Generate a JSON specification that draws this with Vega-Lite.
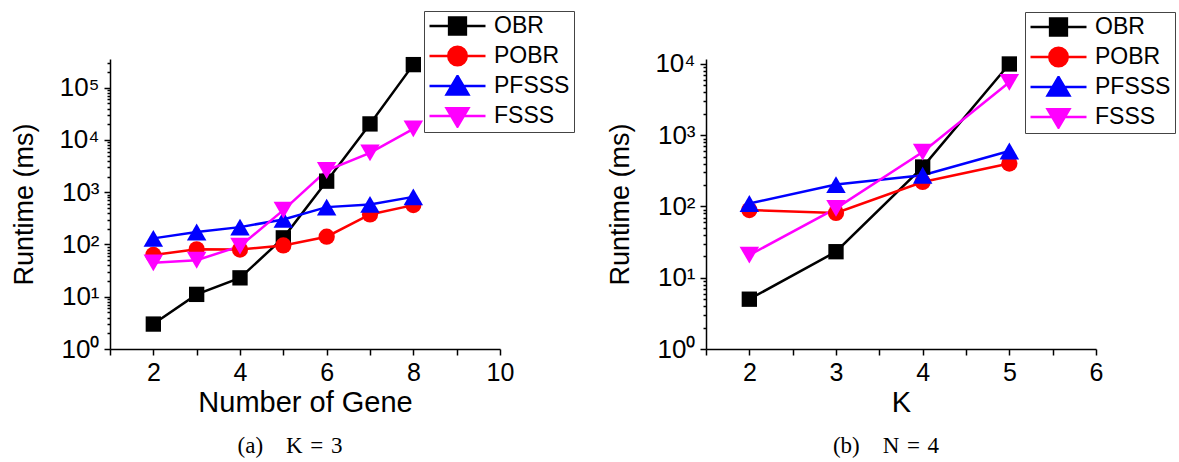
{
  "$schema": "https://vega.github.io/schema/vega-lite/v6.json",
  "padding": {"left": 10, "top": 10, "right": 0, "bottom": 0},
  "datasets": {
    "a": [
      {"n": 2, "method": "OBR", "t": 3.0}, {"n": 3, "method": "OBR", "t": 11.1}, {"n": 4, "method": "OBR", "t": 23}, {"n": 5, "method": "OBR", "t": 134}, {"n": 6, "method": "OBR", "t": 1630}, {"n": 7, "method": "OBR", "t": 20300}, {"n": 8, "method": "OBR", "t": 277000},
      {"n": 2, "method": "POBR", "t": 63}, {"n": 3, "method": "POBR", "t": 81}, {"n": 4, "method": "POBR", "t": 80}, {"n": 5, "method": "POBR", "t": 96}, {"n": 6, "method": "POBR", "t": 141}, {"n": 7, "method": "POBR", "t": 376}, {"n": 8, "method": "POBR", "t": 567},
      {"n": 2, "method": "PFSSS", "t": 131}, {"n": 3, "method": "PFSSS", "t": 173}, {"n": 4, "method": "PFSSS", "t": 215}, {"n": 5, "method": "PFSSS", "t": 302}, {"n": 6, "method": "PFSSS", "t": 519}, {"n": 7, "method": "PFSSS", "t": 585}, {"n": 8, "method": "PFSSS", "t": 815},
      {"n": 2, "method": "FSSS", "t": 44.6}, {"n": 3, "method": "FSSS", "t": 50}, {"n": 4, "method": "FSSS", "t": 93}, {"n": 5, "method": "FSSS", "t": 455}, {"n": 6, "method": "FSSS", "t": 2610}, {"n": 7, "method": "FSSS", "t": 5660}, {"n": 8, "method": "FSSS", "t": 16300}
    ],
    "b": [
      {"n": 2, "method": "OBR", "t": 5.0}, {"n": 3, "method": "OBR", "t": 23.2}, {"n": 4, "method": "OBR", "t": 358}, {"n": 5, "method": "OBR", "t": 10000},
      {"n": 2, "method": "POBR", "t": 89}, {"n": 3, "method": "POBR", "t": 81}, {"n": 4, "method": "POBR", "t": 221}, {"n": 5, "method": "POBR", "t": 400},
      {"n": 2, "method": "PFSSS", "t": 110}, {"n": 3, "method": "PFSSS", "t": 203}, {"n": 4, "method": "PFSSS", "t": 274}, {"n": 5, "method": "PFSSS", "t": 600},
      {"n": 2, "method": "FSSS", "t": 20.8}, {"n": 3, "method": "FSSS", "t": 94}, {"n": 4, "method": "FSSS", "t": 580}, {"n": 5, "method": "FSSS", "t": 5530}
    ]
  },
  "hconcat": [
    {
      "width": 390, "height": 290,
      "data": {"name": "a"},
      "title": {"text": "(a)\u2003K\u2004=\u20043", "orient": "bottom", "anchor": "middle", "font": "Liberation Serif", "fontSize": 23, "fontWeight": "normal", "color": "black", "offset": 18, "dx": -15},
      "resolve": {"axis": {"y": "independent"}},
      "layer": [
        {
          "mark": {"type": "point", "filled": true, "opacity": 0, "size": 10, "strokeWidth": 2.5},
          "encoding": {
            "x": {"field": "n", "type": "quantitative", "scale": {"domain": [1, 10], "nice": false}, "axis": {"values": [1, 2, 3, 4, 5, 6, 7, 8, 9, 10], "labelExpr": "datum.value % 2 == 0 ? datum.label : ''", "title": "Number of Gene"}},
            "y": {"field": "t", "type": "quantitative", "scale": {"type": "log", "domain": [1, 354813], "nice": false}, "axis": {"orient": "left", "values": [2,3,4,5,6,7,8,9,20,30,40,50,60,70,80,90,200,300,400,500,600,700,800,900,2000,3000,4000,5000,6000,7000,8000,9000,20000,30000,40000,50000,60000,70000,80000,90000,200000,300000], "labels": false, "domain": false, "tickSize": 3, "title": null}},
            "stroke": {"field": "method", "type": "nominal", "scale": {"domain": ["OBR", "POBR", "PFSSS", "FSSS"], "range": ["#000000", "#ff0000", "#0000ff", "#ff00ff"]}, "legend": {"legendX": 314, "legendY": -48}},
            "fill": {"field": "method", "type": "nominal", "scale": {"domain": ["OBR", "POBR", "PFSSS", "FSSS"], "range": ["#000000", "#ff0000", "#0000ff", "#ff00ff"]}, "legend": {"legendX": 314, "legendY": -48}},
            "shape": {"field": "method", "type": "nominal", "scale": {"domain": ["OBR", "POBR", "PFSSS", "FSSS"], "range": ["M-1,0H1M-0.3,-0.3H0.3V0.3H-0.3Z", "M-1,0H1M-0.33,0A0.33,0.33,0,1,0,0.33,0A0.33,0.33,0,1,0,-0.33,0Z", "M-1,0H1M0,-0.36L0.39,0.3H-0.39Z", "M-1,0H1M-0.39,-0.28H0.39L0,0.38Z"]}, "legend": {"legendX": 314, "legendY": -48}}
          }
        },
        {
          "mark": {"type": "line", "strokeWidth": 2.5},
          "encoding": {
            "x": {"field": "n", "type": "quantitative"},
            "y": {"field": "t", "type": "quantitative", "scale": {"type": "log", "domain": [1, 354813], "nice": false}, "axis": {"orient": "left", "values": [1, 10, 100, 1000, 10000, 100000], "labelExpr": "'10' + ['⁰','¹','²','³','⁴','⁵'][round(log(datum.value)/LN10)]", "title": "Runtime (ms)"}},
            "stroke": {"field": "method", "type": "nominal", "scale": {"domain": ["OBR", "POBR", "PFSSS", "FSSS"], "range": ["#000000", "#ff0000", "#0000ff", "#ff00ff"]}, "legend": null}
          }
        },
        {
          "transform": [{"filter": "datum.method == 'OBR'"}],
          "mark": {"type": "point", "shape": "square", "filled": true, "size": 235, "opacity": 1},
          "encoding": {
            "x": {"field": "n", "type": "quantitative"},
            "y": {"field": "t", "type": "quantitative", "axis": null},
            "fill": {"field": "method", "type": "nominal", "scale": {"domain": ["OBR", "POBR", "PFSSS", "FSSS"], "range": ["#000000", "#ff0000", "#0000ff", "#ff00ff"]}, "legend": null}
          }
        },
        {
          "transform": [{"filter": "datum.method == 'POBR'"}],
          "mark": {"type": "point", "shape": "circle", "filled": true, "size": 263, "opacity": 1},
          "encoding": {
            "x": {"field": "n", "type": "quantitative"},
            "y": {"field": "t", "type": "quantitative", "axis": null},
            "fill": {"field": "method", "type": "nominal", "scale": {"domain": ["OBR", "POBR", "PFSSS", "FSSS"], "range": ["#000000", "#ff0000", "#0000ff", "#ff00ff"]}, "legend": null}
          }
        },
        {
          "transform": [{"filter": "datum.method == 'PFSSS'"}],
          "mark": {"type": "point", "shape": "triangle-up", "filled": true, "size": 380, "opacity": 1},
          "encoding": {
            "x": {"field": "n", "type": "quantitative"},
            "y": {"field": "t", "type": "quantitative", "axis": null},
            "fill": {"field": "method", "type": "nominal", "scale": {"domain": ["OBR", "POBR", "PFSSS", "FSSS"], "range": ["#000000", "#ff0000", "#0000ff", "#ff00ff"]}, "legend": null}
          }
        },
        {
          "transform": [{"filter": "datum.method == 'FSSS'"}],
          "mark": {"type": "point", "shape": "triangle-down", "filled": true, "size": 380, "opacity": 1},
          "encoding": {
            "x": {"field": "n", "type": "quantitative"},
            "y": {"field": "t", "type": "quantitative", "axis": null},
            "fill": {"field": "method", "type": "nominal", "scale": {"domain": ["OBR", "POBR", "PFSSS", "FSSS"], "range": ["#000000", "#ff0000", "#0000ff", "#ff00ff"]}, "legend": null}
          }
        }
      ]
    },
    {
      "width": 390, "height": 290,
      "data": {"name": "b"},
      "title": {"text": "(b)\u2003N\u2004=\u20044", "orient": "bottom", "anchor": "middle", "font": "Liberation Serif", "fontSize": 23, "fontWeight": "normal", "color": "black", "offset": 18, "dx": -15},
      "resolve": {"axis": {"y": "independent"}},
      "layer": [
        {
          "mark": {"type": "point", "filled": true, "opacity": 0, "size": 10, "strokeWidth": 2.5},
          "encoding": {
            "x": {"field": "n", "type": "quantitative", "scale": {"domain": [1.5, 6], "nice": false}, "axis": {"values": [1.5, 2, 2.5, 3, 3.5, 4, 4.5, 5, 5.5, 6], "labelExpr": "datum.value % 1 == 0 ? format(datum.value, 'd') : ''", "title": "K"}},
            "y": {"field": "t", "type": "quantitative", "scale": {"type": "log", "domain": [1, 11749], "nice": false}, "axis": {"orient": "left", "values": [2,3,4,5,6,7,8,9,20,30,40,50,60,70,80,90,200,300,400,500,600,700,800,900,2000,3000,4000,5000,6000,7000,8000,9000], "labels": false, "domain": false, "tickSize": 3, "title": null}},
            "stroke": {"field": "method", "type": "nominal", "scale": {"domain": ["OBR", "POBR", "PFSSS", "FSSS"], "range": ["#000000", "#ff0000", "#0000ff", "#ff00ff"]}, "legend": {"legendX": 319, "legendY": -47}},
            "fill": {"field": "method", "type": "nominal", "scale": {"domain": ["OBR", "POBR", "PFSSS", "FSSS"], "range": ["#000000", "#ff0000", "#0000ff", "#ff00ff"]}, "legend": {"legendX": 319, "legendY": -47}},
            "shape": {"field": "method", "type": "nominal", "scale": {"domain": ["OBR", "POBR", "PFSSS", "FSSS"], "range": ["M-1,0H1M-0.3,-0.3H0.3V0.3H-0.3Z", "M-1,0H1M-0.33,0A0.33,0.33,0,1,0,0.33,0A0.33,0.33,0,1,0,-0.33,0Z", "M-1,0H1M0,-0.36L0.39,0.3H-0.39Z", "M-1,0H1M-0.39,-0.28H0.39L0,0.38Z"]}, "legend": {"legendX": 319, "legendY": -47}}
          }
        },
        {
          "mark": {"type": "line", "strokeWidth": 2.5},
          "encoding": {
            "x": {"field": "n", "type": "quantitative"},
            "y": {"field": "t", "type": "quantitative", "scale": {"type": "log", "domain": [1, 11749], "nice": false}, "axis": {"orient": "left", "values": [1, 10, 100, 1000, 10000], "labelExpr": "'10' + ['⁰','¹','²','³','⁴','⁵'][round(log(datum.value)/LN10)]", "title": "Runtime (ms)"}},
            "stroke": {"field": "method", "type": "nominal", "scale": {"domain": ["OBR", "POBR", "PFSSS", "FSSS"], "range": ["#000000", "#ff0000", "#0000ff", "#ff00ff"]}, "legend": null}
          }
        },
        {
          "transform": [{"filter": "datum.method == 'OBR'"}],
          "mark": {"type": "point", "shape": "square", "filled": true, "size": 235, "opacity": 1},
          "encoding": {
            "x": {"field": "n", "type": "quantitative"},
            "y": {"field": "t", "type": "quantitative", "axis": null},
            "fill": {"field": "method", "type": "nominal", "scale": {"domain": ["OBR", "POBR", "PFSSS", "FSSS"], "range": ["#000000", "#ff0000", "#0000ff", "#ff00ff"]}, "legend": null}
          }
        },
        {
          "transform": [{"filter": "datum.method == 'POBR'"}],
          "mark": {"type": "point", "shape": "circle", "filled": true, "size": 263, "opacity": 1},
          "encoding": {
            "x": {"field": "n", "type": "quantitative"},
            "y": {"field": "t", "type": "quantitative", "axis": null},
            "fill": {"field": "method", "type": "nominal", "scale": {"domain": ["OBR", "POBR", "PFSSS", "FSSS"], "range": ["#000000", "#ff0000", "#0000ff", "#ff00ff"]}, "legend": null}
          }
        },
        {
          "transform": [{"filter": "datum.method == 'PFSSS'"}],
          "mark": {"type": "point", "shape": "triangle-up", "filled": true, "size": 380, "opacity": 1},
          "encoding": {
            "x": {"field": "n", "type": "quantitative"},
            "y": {"field": "t", "type": "quantitative", "axis": null},
            "fill": {"field": "method", "type": "nominal", "scale": {"domain": ["OBR", "POBR", "PFSSS", "FSSS"], "range": ["#000000", "#ff0000", "#0000ff", "#ff00ff"]}, "legend": null}
          }
        },
        {
          "transform": [{"filter": "datum.method == 'FSSS'"}],
          "mark": {"type": "point", "shape": "triangle-down", "filled": true, "size": 380, "opacity": 1},
          "encoding": {
            "x": {"field": "n", "type": "quantitative"},
            "y": {"field": "t", "type": "quantitative", "axis": null},
            "fill": {"field": "method", "type": "nominal", "scale": {"domain": ["OBR", "POBR", "PFSSS", "FSSS"], "range": ["#000000", "#ff0000", "#0000ff", "#ff00ff"]}, "legend": null}
          }
        }
      ]
    }
  ],
  "spacing": 31,
  "resolve": {
    "scale": {"x": "independent", "y": "independent", "stroke": "independent", "fill": "independent", "shape": "independent"},
    "legend": {"stroke": "independent", "fill": "independent", "shape": "independent"}
  },
  "config": {
    "view": {"stroke": null},
    "axis": {
      "grid": false,
      "labelFont": "Liberation Sans", "labelFontSize": 26, "labelColor": "black",
      "titleFont": "Liberation Sans", "titleFontSize": 28, "titleFontWeight": "normal", "titleColor": "black",
      "domainColor": "black", "domainWidth": 1.5, "tickColor": "black", "tickWidth": 1.5, "tickSize": 6,
      "labelPadding": 5, "titlePadding": 6, "labelFlush": false, "labelOverlap": false
    },
    "axisX": {"labelFontSize": 25, "labelPadding": 5, "titlePadding": 3, "titleFontSize": 29},
    "axisY": {"titlePadding": 20, "titleFontSize": 27},
    "legend": {
      "orient": "none", "title": null, "padding": 4,
      "strokeColor": "#444444", "fillColor": "white",
      "labelFont": "Liberation Sans", "labelFontSize": 23, "labelColor": "black", "labelOffset": 7,
      "symbolSize": 3136, "symbolStrokeWidth": 2.5, "symbolOpacity": 1,
      "clipHeight": 22, "rowPadding": 7
    }
  }
}
